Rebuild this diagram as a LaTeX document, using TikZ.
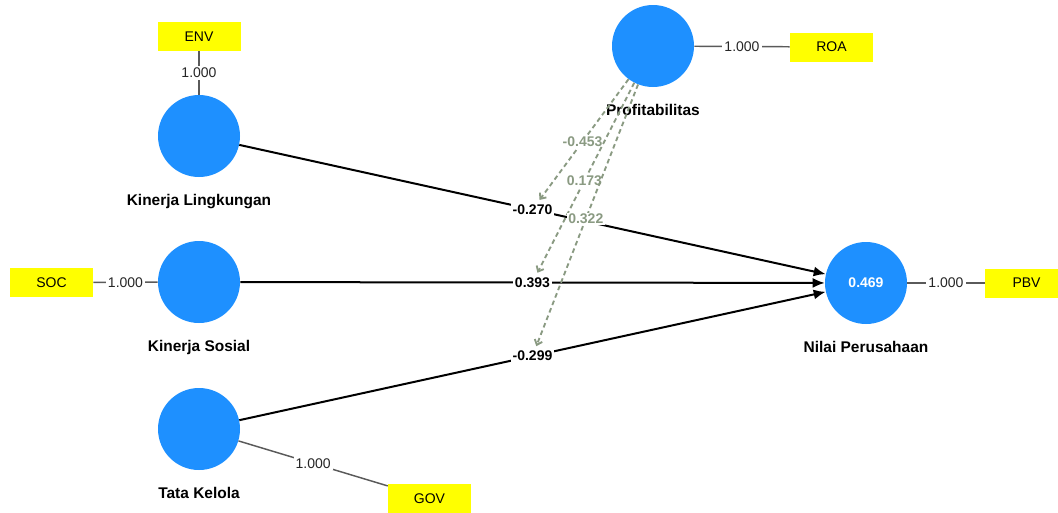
\documentclass[tikz,border=0pt]{standalone}
\usepackage{fontspec}
\setmainfont{Liberation Sans}
\usetikzlibrary{arrows.meta,positioning,calc}
\definecolor{lvblue}{HTML}{1E90FF}
\definecolor{indyellow}{HTML}{FFFF00}
\definecolor{modgreen}{HTML}{8A9A82}
\definecolor{loadgray}{HTML}{5A5A5A}

\begin{document}
\begin{tikzpicture}[
  x=0.75pt, y=-0.75pt,
  lv/.style={circle, fill=lvblue, minimum size=61.5pt, inner sep=0pt,
             text=white, font=\fontsize{10.5}{12}\selectfont\bfseries},
  lvname/.style={anchor=base, inner sep=0pt, font=\fontsize{11.6}{13}\selectfont\bfseries},
  ind/.style={fill=indyellow, minimum width=62.25pt, minimum height=21.75pt,
              inner sep=0pt, font=\fontsize{10.5}{12}\selectfont},
  load/.style={draw=loadgray, line width=1.1pt},
  loadval/.style={fill=white, inner sep=1.5pt, text=black!85, font=\fontsize{10.5}{12}\selectfont},
  pth/.style={-{Latex[length=9pt,width=7.5pt]}, line width=1.5pt},
  coef/.style={fill=white, inner sep=1.5pt, font=\fontsize{10.5}{12}\selectfont\bfseries},
  modarr/.style={-{Straight Barb[length=3.5pt,width=6pt]}, dash pattern=on 3.5pt off 2.5pt,
                 line width=1.4pt, modgreen, shorten >=1.5pt},
  modval/.style={fill=white, inner sep=1pt, text=modgreen, font=\fontsize{10.5}{12}\selectfont\bfseries},
]
\useasboundingbox (0,0) rectangle (1058,512);

% latent variables
\node[lv] (kl) at (199,136) {};
\node[lv] (ks) at (199,282) {};
\node[lv] (tk) at (199,429) {};
\node[lv] (prof) at (653,46) {};
\node[lv] (np) at (866,283) {0.469};

\node[lvname] (klname) at ($(kl)+(0,69)$) {Kinerja Lingkungan};
\node[lvname] (ksname) at ($(ks)+(0,69)$) {Kinerja Sosial};
\node[lvname] (tkname) at ($(tk)+(0,69)$) {Tata Kelola};
\node[lvname] (profname) at ($(prof)+(0,69)$) {Profitabilitas};
\node[lvname] (npname) at ($(np)+(0,69)$) {Nilai Perusahaan};

% indicators
\node[ind] (env) at (199,36.5) {ENV};
\node[ind] (soc) at (51.5,282.5) {SOC};
\node[ind] (gov) at (429.5,498.5) {GOV};
\node[ind] (roa) at (831.5,47) {ROA};
\node[ind] (pbv) at (1026.5,283) {PBV};

% loadings
\draw[load] (env) -- node[loadval] (lenv) {1.000} (kl);
\draw[load] (soc) -- node[loadval] (lsoc) {1.000} (ks);
\draw[load] (tk) -- node[loadval] (lgov) {1.000} (gov);
\draw[load] (prof) -- node[loadval] (lroa) {1.000} (roa);
\draw[load] (np) -- node[loadval] (lpbv) {1.000} (pbv);

% structural paths
\draw[pth] (kl) -- node[coef] (c1) {-0.270} (np);
\draw[pth] (ks) -- node[coef] (c2) {0.393} (np);
\draw[pth] (tk) -- node[coef] (c3) {-0.299} (np);

% moderation
\draw[modarr] (prof) -- node[modval, pos=0.51] (m1) {-0.453} (c1);
\draw[modarr] (prof) -- node[modval, pos=0.51] (m2) {0.173} (c2);
\draw[modarr] (prof) -- node[modval, pos=0.51] (m3) {0.322} (c3);
\end{tikzpicture}
\end{document}
